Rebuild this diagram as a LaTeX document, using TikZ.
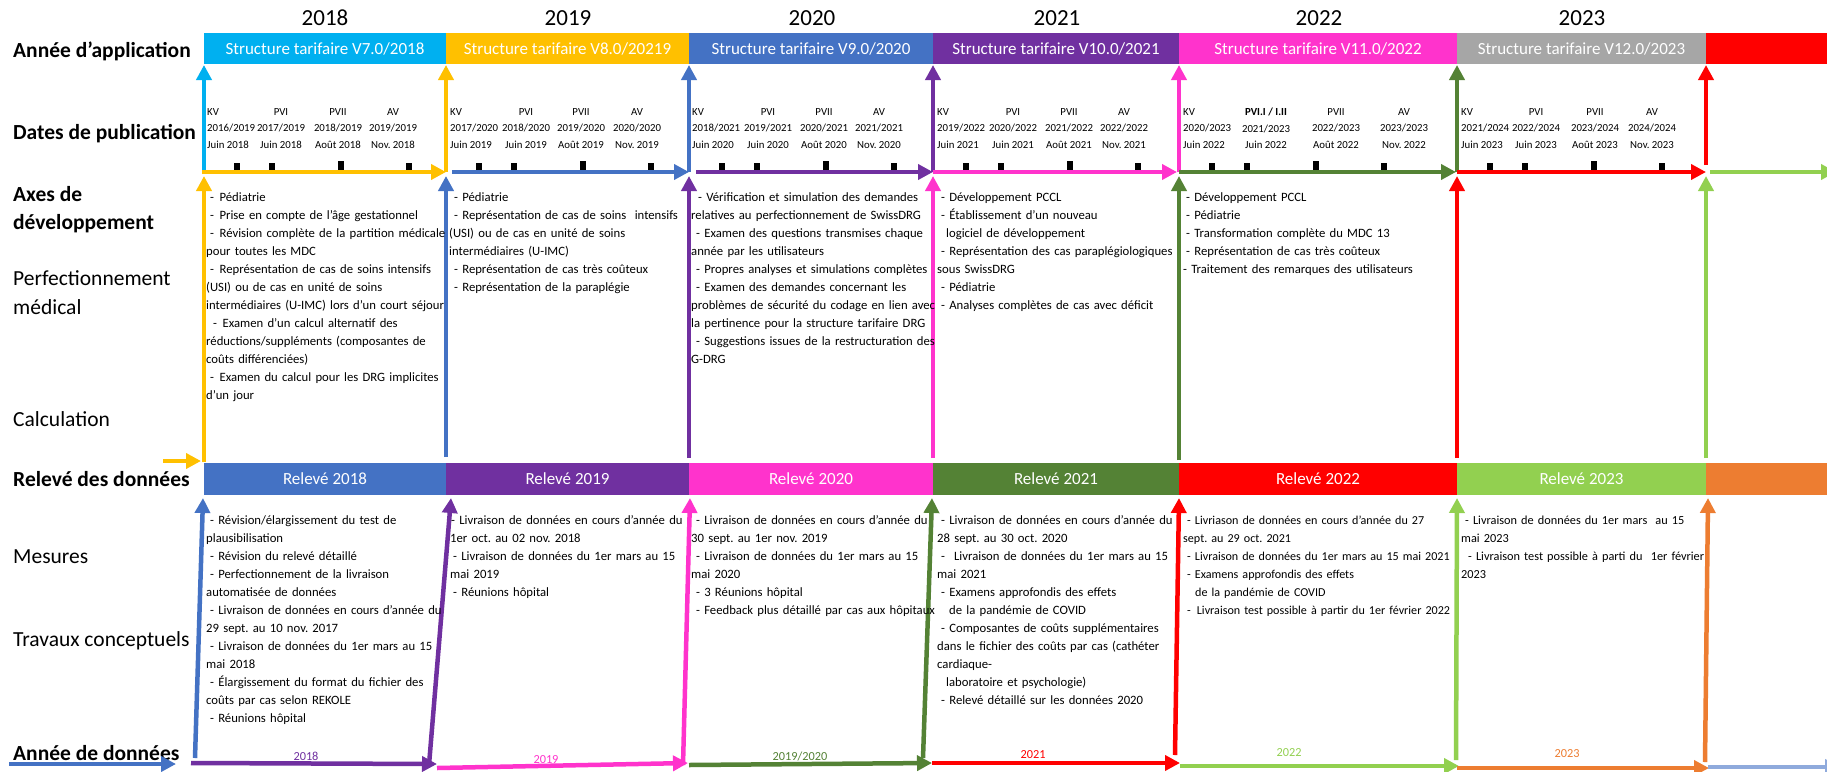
\documentclass[tikz,border=0pt]{standalone}
\usepackage{fontspec}
\setmainfont{Carlito}
\usetikzlibrary{arrows.meta}
\definecolor{cCyan}{HTML}{00B0F0}
\definecolor{cGold}{HTML}{FFC000}
\definecolor{cBlue}{HTML}{4472C4}
\definecolor{cPurple}{HTML}{7030A0}
\definecolor{cMag}{HTML}{FF33CC}
\definecolor{cGreen}{HTML}{548235}
\definecolor{cRed}{HTML}{FF0000}
\definecolor{cLGreen}{HTML}{92D050}
\definecolor{cGray}{HTML}{A6A6A6}
\definecolor{cOrange}{HTML}{ED7D31}
\definecolor{cLBlue}{HTML}{8FAADC}
\newcommand\myind[1]{\hspace*{#1pt}}
\newcommand\wdash{-\hspace{5.5pt}}
\tikzset{
  arr/.style={line width=4.5pt, -{Triangle[length=15pt,width=15pt]}},
  bar/.style={minimum height=31pt, inner sep=0pt, outer sep=0pt, text=white, font=\fontsize{17}{20}\selectfont, anchor=north west},
  rowlab/.style={anchor=base west, inner sep=0pt, font=\fontsize{21.5}{24}\selectfont},
  rowlabb/.style={anchor=base west, inner sep=0pt, font=\fontsize{21.5}{24}\selectfont\bfseries},
  yearlab/.style={anchor=base, inner sep=0pt, font=\fontsize{23}{26}\selectfont},
  coltext/.style={anchor=north west, inner sep=0pt, text width=330pt, align=left, font=\fontsize{12.7}{18}\selectfont},
  pubL/.style={anchor=north west, inner sep=0pt, align=left, font=\fontsize{10.8}{16.6}\selectfont},
  pubC/.style={anchor=north, inner sep=0pt, align=center, font=\fontsize{10.8}{16.6}\selectfont},
  yrlab/.style={anchor=base, inner sep=0pt, font=\fontsize{12.3}{14}\selectfont},
}
\begin{document}
\frenchspacing
\begin{tikzpicture}[x=1pt,y=-1pt]
\useasboundingbox (0,0) rectangle (1827,771);
\clip (0,0) rectangle (1827,771);
\fill[white] (0,0) rectangle (1827,771);

% years
\node[yearlab] (y18) at (325,25.5) {2018};
\node[yearlab] (y19) at (568,25.5) {2019};
\node[yearlab] (y20) at (812,25.5) {2020};
\node[yearlab] (y21) at (1057,25.5) {2021};
\node[yearlab] (y22) at (1319,25.5) {2022};
\node[yearlab] (y23) at (1582,25.5) {2023};

% top bars
\node[bar, fill=cCyan, minimum width=242pt] (v7) at (204,33) {Structure tarifaire V7.0/2018};
\node[bar, fill=cGold, minimum width=243pt] (v8) at (446,33) {Structure tarifaire V8.0/20219};
\node[bar, fill=cBlue, minimum width=244pt] (v9) at (689,33) {Structure tarifaire V9.0/2020};
\node[bar, fill=cPurple, minimum width=246pt] (v10) at (933,33) {Structure tarifaire V10.0/2021};
\node[bar, fill=cMag, minimum width=278pt] (v11) at (1179,33) {Structure tarifaire V11.0/2022};
\node[bar, fill=cGray, minimum width=249pt] (v12) at (1457,33) {Structure tarifaire V12.0/2023};
\node[bar, fill=cRed, minimum width=121pt] (v13) at (1706,33) {};

% releve bars
\node[bar, fill=cBlue, minimum width=242pt, minimum height=32pt] (r18) at (204,463) {Relevé 2018};
\node[bar, fill=cPurple, minimum width=243pt, minimum height=32pt] (r19) at (446,463) {Relevé 2019};
\node[bar, fill=cMag, minimum width=244pt, minimum height=32pt] (r20) at (689,463) {Relevé 2020};
\node[bar, fill=cGreen, minimum width=246pt, minimum height=32pt] (r21) at (933,463) {Relevé 2021};
\node[bar, fill=cRed, minimum width=278pt, minimum height=32pt] (r22) at (1179,463) {Relevé 2022};
\node[bar, fill=cLGreen, minimum width=249pt, minimum height=32pt] (r23) at (1457,463) {Relevé 2023};
\node[bar, fill=cOrange, minimum width=121pt, minimum height=32pt] (r24) at (1706,463) {};

% row labels
\node[rowlabb] (l1) at (13,57) {Année d'application};
\node[rowlabb] (l2) at (13,139) {Dates de publication};
\node[rowlabb] (l3) at (13,201) {Axes de};
\node[rowlabb] (l4) at (13,229) {développement};
\node[rowlab] (l5) at (13,285) {Perfectionnement};
\node[rowlab] (l6) at (13,314) {médical};
\node[rowlab] (l7) at (13,426) {Calculation};
\node[rowlabb] (l8) at (13,486) {Relevé des données};
\node[rowlab] (l9) at (13,563) {Mesures};
\node[rowlab] (l10) at (13,646) {Travaux conceptuels};
\node[rowlabb] (l11) at (13,760) {Année de données};

% publication labels
\node[pubL] (k18) at (207,108) {KV\\2016/2019\\Juin 2018};
\node[pubC] (a18) at (281,108) {PVI\\2017/2019\\Juin 2018};
\node[pubC] (b18) at (338,108) {PVII\\2018/2019\\Août 2018};
\node[pubC] (c18) at (393,108) {AV\\2019/2019\\Nov. 2018};
\node[pubL] (k19) at (450,108) {KV\\2017/2020\\Juin 2019};
\node[pubC] (a19) at (526,108) {PVI\\2018/2020\\Juin 2019};
\node[pubC] (b19) at (581,108) {PVII\\2019/2020\\Août 2019};
\node[pubC] (c19) at (637,108) {AV\\2020/2020\\Nov. 2019};
\node[pubL] (k20) at (692,108) {KV\\2018/2021\\Juin 2020};
\node[pubC] (a20) at (768,108) {PVI\\2019/2021\\Juin 2020};
\node[pubC] (b20) at (824,108) {PVII\\2020/2021\\Août 2020};
\node[pubC] (c20) at (879,108) {AV\\2021/2021\\Nov. 2020};
\node[pubL] (k21) at (937,108) {KV\\2019/2022\\Juin 2021};
\node[pubC] (a21) at (1013,108) {PVI\\2020/2022\\Juin 2021};
\node[pubC] (b21) at (1069,108) {PVII\\2021/2022\\Août 2021};
\node[pubC] (c21) at (1124,108) {AV\\2022/2022\\Nov. 2021};
\node[pubL] (k22) at (1183,108) {KV\\2020/2023\\Juin 2022};
\node[pubC] (a22) at (1266,108) {\textbf{PVI.I / I.II}\\2021/2023\\Juin 2022};
\node[pubC] (b22) at (1336,108) {PVII\\2022/2023\\Août 2022};
\node[pubC] (c22) at (1404,108) {AV\\2023/2023\\Nov. 2022};
\node[pubL] (k23) at (1461,108) {KV\\2021/2024\\Juin 2023};
\node[pubC] (a23) at (1536,108) {PVI\\2022/2024\\Juin 2023};
\node[pubC] (b23) at (1595,108) {PVII\\2023/2024\\Août 2023};
\node[pubC] (c23) at (1652,108) {AV\\2024/2024\\Nov. 2023};

% ticks
\foreach \b in {204,446,689,933,1179,1457}{
  \fill[black] (\b+30.2,163) rectangle (\b+35.8,170);
  \fill[black] (\b+65.2,163) rectangle (\b+70.8,170);
  \fill[black] (\b+134.2,160.5) rectangle (\b+139.8,170);
  \fill[black] (\b+202.2,163) rectangle (\b+207.8,170);
}

% top vertical arrows
\foreach \x/\col/\ys [count=\i] in {204/cCyan/174, 446/cGold/172, 689/cBlue/172, 933/cPurple/172, 1179/cMag/172, 1457/cGreen/172, 1706/cRed/165}{
  \coordinate (ta\i) at (\x,\ys);
  \coordinate (tb\i) at (\x,65);
  \draw[arr, color=\col] (ta\i) -- (tb\i);
}

% publication timeline
\foreach \xa/\xb/\col [count=\i] in {202/446/cGold, 452/689/cBlue, 696/933/cPurple, 933/1177/cMag, 1179/1456/cGreen, 1457/1706/cRed, 1710/1836/cLGreen}{
  \coordinate (pa\i) at (\xa,172);
  \coordinate (pb\i) at (\xb,172);
  \draw[arr, color=\col] (pa\i) -- (pb\i);
}

% middle vertical arrows
\foreach \x/\col/\ys [count=\i] in {204/cGold/462, 446/cBlue/457, 689/cPurple/458, 933/cMag/458, 1179/cGreen/460, 1457/cRed/458, 1706/cLGreen/458}{
  \coordinate (ma\i) at (\x,\ys);
  \coordinate (mb\i) at (\x,176);
  \draw[arr, color=\col] (ma\i) -- (mb\i);
}
\coordinate (oa) at (163,461);
\coordinate (ob) at (201,461);
\draw[arr, color=cGold] (oa) -- (ob);

% bottom slanted arrows
\foreach \xa/\ya/\xb/\col [count=\i] in {195/758/203/cBlue, 429/765/451/cPurple, 683/765/690/cMag, 923/758/932/cGreen, 1175/755/1179/cRed, 1456/760/1457/cLGreen, 1705/762/1708/cOrange}{
  \coordinate (sa\i) at (\xa,\ya);
  \coordinate (sb\i) at (\xb,498);
  \draw[arr, color=\col] (sa\i) -- (sb\i);
}

% bottom timeline
\foreach \xa/\ya/\xb/\yb/\col [count=\i] in {9/764/176/764/cBlue, 191/763/437/764/cPurple, 437/768/688/763/cMag, 689/765/932/763/cGreen, 932/763/1180/763/cRed, 1180/766/1459/766/cLGreen, 1457/768/1709/768/cOrange, 1708/767/1840/767/cLBlue}{
  \coordinate (ba\i) at (\xa,\ya);
  \coordinate (bb\i) at (\xb,\yb);
  \draw[arr, color=\col] (ba\i) -- (bb\i);
}

% bottom year labels
\node[yrlab, text=cPurple] (d18) at (306,760) {2018};
\node[yrlab, text=cMag] (d19) at (546,763.5) {2019};
\node[yrlab, text=cGreen] (d20) at (800,760.5) {2019/2020};
\node[yrlab, text=cRed] (d21) at (1033,758.5) {2021};
\node[yrlab, text=cLGreen] (d22) at (1289,756.5) {2022};
\node[yrlab, text=cOrange] (d23) at (1567,757.5) {2023};

% axes texts
\node[coltext] (ax18) at (206,188.4) {\strut\myind{4}\wdash Pédiatrie\\
\myind{4}\wdash Prise en compte de l’âge gestationnel\\
\myind{4}\wdash Révision complète de la partition médicale\\
pour toutes les MDC\\
\myind{4}\wdash Représentation de cas de soins intensifs\\
(USI) ou de cas en unité de soins\\
intermédiaires (U-IMC) lors d’un court séjour\\
\myind{7}\wdash Examen d’un calcul alternatif des\\
réductions/suppléments (composantes de\\
coûts différenciées)\\
\myind{4}\wdash Examen du calcul pour les DRG implicites\\
d’un jour};

\node[coltext] (ax19) at (449,188.4) {\strut\myind{5}- Pédiatrie\\
\myind{5}- Représentation de cas de soins\ \ intensifs\\
(USI) ou de cas en unité de soins\\
intermédiaires (U-IMC)\\
\myind{5}- Représentation de cas très coûteux\\
\myind{5}- Représentation de la paraplégie};

\node[coltext] (ax20) at (691,188.4) {\strut\myind{7}- Vérification et simulation des demandes\\
relatives au perfectionnement de SwissDRG\\
\myind{5}- Examen des questions transmises chaque\\
année par les utilisateurs\\
\myind{5}- Propres analyses et simulations complètes\\
\myind{5}- Examen des demandes concernant les\\
problèmes de sécurité du codage en lien avec\\
la pertinence pour la structure tarifaire DRG\\
\myind{5}- Suggestions issues de la restructuration des\\
G-DRG};

\node[coltext] (ax21) at (937,188.4) {\strut\myind{4}- Développement PCCL\\
\myind{4}- Établissement d'un nouveau\\
\myind{9}logiciel de développement\\
\myind{4}- Représentation des cas paraplégiologiques\\
sous SwissDRG\\
\myind{4}- Pédiatrie\\
\myind{4}- Analyses complètes de cas avec déficit};

\node[coltext] (ax22) at (1183,188.4) {\strut\myind{3}- Développement PCCL\\
\myind{3}- Pédiatrie\\
\myind{3}- Transformation complète du MDC 13\\
\myind{3}- Représentation de cas très coûteux\\
- Traitement des remarques des utilisateurs};

% releve texts
\node[coltext] (me18) at (206,511.4) {\strut\myind{4}- Révision/élargissement du test de\\
plausibilisation\\
\myind{4}- Révision du relevé détaillé\\
\myind{4}- Perfectionnement de la livraison\\
automatisée de données\\
\myind{4}- Livraison de données en cours d’année du\\
29 sept. au 10 nov. 2017\\
\myind{4}- Livraison de données du 1er mars au 15\\
mai 2018\\
\myind{4}- Élargissement du format du fichier des\\
coûts par cas selon REKOLE\\
\myind{4}- Réunions hôpital};

\node[coltext] (me19) at (450,511.4) {\strut\myind{1}- Livraison de données en cours d’année du\\
1er oct. au 02 nov. 2018\\
\myind{3}- Livraison de données du 1er mars au 15\\
mai 2019\\
\myind{3}- Réunions hôpital};

\node[coltext] (me20) at (691,511.4) {\strut\myind{5}- Livraison de données en cours d’année du\\
30 sept. au 1er nov. 2019\\
\myind{5}- Livraison de données du 1er mars au 15\\
mai 2020\\
\myind{5}- 3 Réunions hôpital\\
\myind{5}- Feedback plus détaillé par cas aux hôpitaux};

\node[coltext] (me21) at (937,511.4) {\strut\myind{4}- Livraison de données en cours d’année du\\
28 sept. au 30 oct. 2020\\
\myind{4}-\hspace{9pt}Livraison de données du 1er mars au 15\\
mai 2021\\
\myind{4}- Examens approfondis des effets\\
\myind{12}de la pandémie de COVID\\
\myind{4}- Composantes de coûts supplémentaires\\
dans le fichier des coûts par cas (cathéter\\
cardiaque-\\
\myind{9}laboratoire et psychologie)\\
\myind{4}- Relevé détaillé sur les données 2020};

\node[coltext, font=\fontsize{12.1}{18}\selectfont] (me22) at (1183,511.4) {\strut\myind{4}- Livriason de données en cours d'année du 27\\
sept. au 29 oct. 2021\\
\myind{4}- Livraison de données du 1er mars au 15 mai 2021\\
\myind{4}- Examens approfondis des effets\\
\myind{12}de la pandémie de COVID\\
\myind{4}-\hspace{6pt}Livraison test possible à partir du 1er février 2022};

\node[coltext, font=\fontsize{12.3}{18}\selectfont] (me23) at (1461,511.4) {\strut\myind{4}- Livraison de données du 1er mars\ \ au 15\\
mai 2023\\
\myind{7}- Livraison test possible à parti du\ \ 1er février\\
2023};

\end{tikzpicture}
\end{document}
